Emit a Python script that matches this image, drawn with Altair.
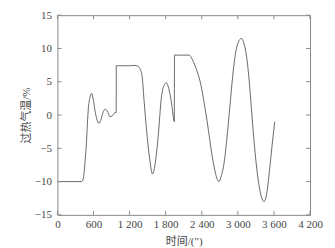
import altair as alt
import pandas as pd

times = [0, 400, 430, 457, 480, 496, 512, 540, 568, 595, 623, 655, 689, 720, 755, 789, 830, 872, 915, 955, 977,
         979, 1100, 1200, 1287, 1343, 1375, 1409, 1442, 1482, 1530, 1581, 1630, 1675, 1730, 1770, 1813, 1850, 1880,
         1910, 1935, 1944, 1946, 2100, 2190, 2240, 2284, 2325, 2367, 2410, 2450, 2490, 2533, 2575, 2616, 2650, 2683,
         2720, 2782, 2820, 2865, 2905, 2948, 3005, 3059, 3100, 3142, 3185, 3225, 3265, 3308, 3370, 3436, 3485, 3530,
         3570, 3613]
values = [-10, -10, -9.6, -7.25, -4.5, -1.75, 0.75, 2.6, 3.25, 2.4, 0.75, -0.6, -1.25, -0.8, 0.3, 0.85, 0.6, -0.25,
          -0.1, 0.35, 0.4,
          7.4, 7.4, 7.4, 7.45, 7.3, 6.9, 5.75, 2.0, -2.25, -6.3, -8.85, -7.0, -3.25, 2.75, 4.4, 4.85, 4.0, 2.75,
          1.0, -0.75, -1.0, 9.0, 9.0, 9.0, 8.4, 7.5, 6.5, 5.25, 3.4, 1.25, -1.0, -3.75, -6.3, -8.25, -9.5, -10.0,
          -9.3, -6.5, -3.3, 1.0, 5.0, 8.5, 10.9, 11.5, 10.8, 9.0, 5.5, 1.0, -3.5, -7.5, -11.5, -13.0, -11.5, -8.0,
          -4.5, -1.0]

x_ticks = [0, 600, 1200, 1800, 2400, 3000, 3600, 4200]
y_ticks = [-15, -10, -5, 0, 5, 10, 15]

W, H = 253, 200
FONT = "Liberation Serif, Noto Sans CJK SC"
GRAY = "#8a8a8a"
TXT = "#444444"

df = pd.DataFrame({"t": times, "v": values})
dfx = pd.DataFrame({"t": x_ticks})
dfy = pd.DataFrame({"v": y_ticks})

xs = alt.Scale(domain=[0, 4200], nice=False, zero=False)
ys = alt.Scale(domain=[-15, 15], nice=False, zero=False)

common = dict(ticks=False, grid=False, domain=False, labelOverlap=False, labelFlush=False, labelBound=False,
              labelFont=FONT, labelFontSize=11, labelColor=TXT,
              titleFont=FONT, titleFontSize=11, titleFontWeight="normal", titleColor=TXT)
x_axis = alt.Axis(values=x_ticks, labelPadding=4, titlePadding=6,
                  labelExpr="replace(format(datum.value, ','), ',', ' ')", **common)
y_axis = alt.Axis(values=y_ticks, labelPadding=6, titlePadding=3, **common)
X_TITLE = "时间/(\u2033)"
Y_TITLE = "过热气温/%"

line = alt.Chart(df).mark_line(interpolate="monotone", color="#444444", strokeWidth=0.8).encode(
    x=alt.X("t:Q", scale=xs, title=X_TITLE, axis=x_axis),
    y=alt.Y("v:Q", scale=ys, title=Y_TITLE, axis=y_axis),
)

xt_bottom = alt.Chart(dfx).mark_rule(color=GRAY, strokeWidth=1).encode(
    x=alt.X("t:Q", scale=xs, title=X_TITLE, axis=x_axis), y=alt.value(H), y2=alt.value(H - 4))
xt_top = alt.Chart(dfx).mark_rule(color=GRAY, strokeWidth=1).encode(
    x=alt.X("t:Q", scale=xs, title=X_TITLE, axis=x_axis), y=alt.value(0), y2=alt.value(4))
yt_left = alt.Chart(dfy).mark_rule(color=GRAY, strokeWidth=1).encode(
    y=alt.Y("v:Q", scale=ys, title=Y_TITLE, axis=y_axis), x=alt.value(0), x2=alt.value(4))
yt_right = alt.Chart(dfy).mark_rule(color=GRAY, strokeWidth=1).encode(
    y=alt.Y("v:Q", scale=ys, title=Y_TITLE, axis=y_axis), x=alt.value(W), x2=alt.value(W - 4))

chart = alt.layer(line, xt_bottom, xt_top, yt_left, yt_right).properties(
    width=W, height=H,
    autosize=alt.AutoSizeParams(type="none"),
    padding={"left": 49.5, "top": 7, "right": 17, "bottom": 33},
    background="white",
).configure_view(stroke=GRAY, strokeWidth=1)

chart.save("out.html", embed_options={"renderer": "svg", "actions": False})
